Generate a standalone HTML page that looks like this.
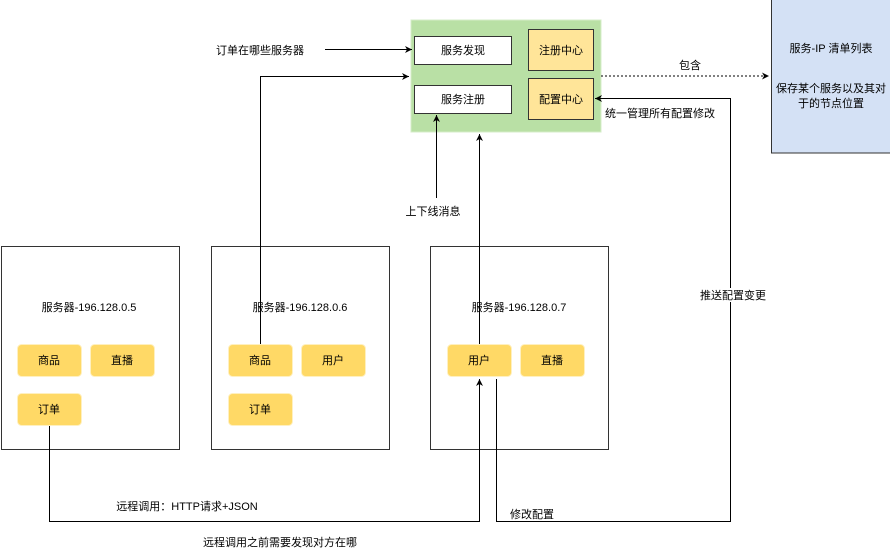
<!DOCTYPE html>
<html><head><meta charset="utf-8"><style>
body{margin:0;width:890px;height:551px;background:#fff;overflow:hidden}
text{font-family:"Liberation Sans","Noto Sans CJK SC",sans-serif;font-size:11px;fill:#000}
</style></head><body>
<svg width="890" height="551" xmlns="http://www.w3.org/2000/svg">
<defs><marker id="a" markerWidth="8" markerHeight="8" refX="7" refY="4" orient="auto" markerUnits="userSpaceOnUse"><path d="M0,0.5 L7,4 L0,7.5 L2,4 Z" fill="#000"/></marker></defs>
<rect x="411" y="20" width="190" height="112" fill="#b9e0a5" stroke="#d5ecc8"/>
<rect x="414.5" y="36.5" width="97" height="28" fill="#fff" stroke="#333"/>
<rect x="414.5" y="85.5" width="97" height="28" fill="#fff" stroke="#333"/>
<rect x="528.5" y="29.5" width="65" height="41" fill="#ffe599" stroke="#333"/>
<rect x="528.5" y="78.5" width="65" height="41" fill="#ffe599" stroke="#333"/>
<text x="463" y="54" text-anchor="middle">服务发现</text>
<text x="463" y="103" text-anchor="middle">服务注册</text>
<text x="561" y="54" text-anchor="middle">注册中心</text>
<text x="561" y="103" text-anchor="middle">配置中心</text>
<rect x="771.5" y="-1" width="130" height="154" fill="#d4e1f5" stroke="#333"/>
<text x="831" y="52" text-anchor="middle">服务-IP 清单列表</text>
<text x="831" y="92" text-anchor="middle">保存某个服务以及其对</text>
<text x="831" y="107" text-anchor="middle">于的节点位置</text>
<line x1="601" y1="76" x2="769" y2="76" stroke="#000" stroke-dasharray="2,2" marker-end="url(#a)"/>
<text x="690" y="69" text-anchor="middle">包含</text>
<text x="660" y="117" text-anchor="middle">统一管理所有配置修改</text>
<g fill="#fff" stroke="#333">
<rect x="1.5" y="246.5" width="178" height="203"/>
<rect x="211.5" y="246.5" width="178" height="203"/>
<rect x="430.5" y="246.5" width="178" height="203"/>
</g>
<text x="89" y="311" text-anchor="middle">服务器-196.128.0.5</text>
<text x="300" y="311" text-anchor="middle">服务器-196.128.0.6</text>
<text x="519" y="311" text-anchor="middle">服务器-196.128.0.7</text>
<g fill="#ffd966" stroke="#fff0c0">
<rect x="17.5" y="344.5" width="64" height="32" rx="4"/>
<rect x="90.5" y="344.5" width="64" height="32" rx="4"/>
<rect x="17.5" y="393.5" width="64" height="32" rx="4"/>
<rect x="228.5" y="344.5" width="64" height="32" rx="4"/>
<rect x="301.5" y="344.5" width="64" height="32" rx="4"/>
<rect x="228.5" y="393.5" width="64" height="32" rx="4"/>
<rect x="447.5" y="344.5" width="64" height="32" rx="4"/>
<rect x="520.5" y="344.5" width="64" height="32" rx="4"/>
</g>
<text x="49" y="364" text-anchor="middle">商品</text>
<text x="122" y="364" text-anchor="middle">直播</text>
<text x="49" y="413" text-anchor="middle">订单</text>
<text x="260" y="364" text-anchor="middle">商品</text>
<text x="333" y="364" text-anchor="middle">用户</text>
<text x="260" y="413" text-anchor="middle">订单</text>
<text x="479" y="364" text-anchor="middle">用户</text>
<text x="552" y="364" text-anchor="middle">直播</text>
<g fill="none" stroke="#000">
<line x1="325" y1="49.5" x2="412" y2="49.5" marker-end="url(#a)"/>
<polyline points="260.5,344 260.5,76.5 409,76.5" marker-end="url(#a)"/>
<line x1="436.5" y1="198" x2="436.5" y2="115" marker-end="url(#a)"/>
<line x1="479.5" y1="344" x2="479.5" y2="134" marker-end="url(#a)"/>
<polyline points="49.5,426 49.5,521.5 479.5,521.5 479.5,379" marker-end="url(#a)"/>
<polyline points="496.5,379 496.5,521.5 730.5,521.5 730.5,98.5 595,98.5" marker-end="url(#a)"/>
</g>
<text x="260" y="54" text-anchor="middle">订单在哪些服务器</text>
<text x="433" y="215" text-anchor="middle">上下线消息</text>
<rect x="697" y="288" width="70" height="14" fill="#fff"/>
<text x="733" y="299" text-anchor="middle">推送配置变更</text>
<text x="187" y="510" text-anchor="middle">远程调用：HTTP请求+JSON</text>
<text x="532" y="518" text-anchor="middle">修改配置</text>
<text x="280" y="546" text-anchor="middle">远程调用之前需要发现对方在哪</text>
</svg>
</body></html>
